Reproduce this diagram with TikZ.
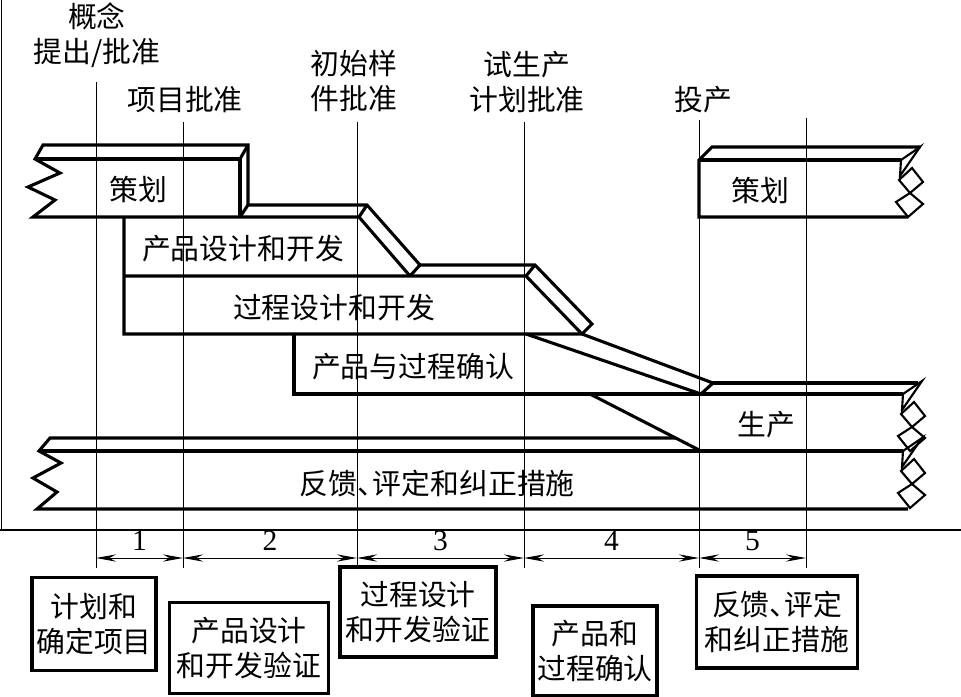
\documentclass[tikz,border=0pt]{standalone}
\usepackage{fontspec}
\setmainfont{Liberation Serif}
\newfontfamily\cjk{Noto Sans CJK SC}
\usepackage{tikz}
\usetikzlibrary{arrows.meta, positioning}
\tikzset{
  barline/.style={line width=2.2pt},
  brkline/.style={line width=1.5pt},
  guide/.style={line width=0.7pt},
  dimline/.style={{Stealth[length=5mm, width=1.8mm]}-{Stealth[length=5mm, width=1.8mm]}, line width=0.7pt},
  zh/.style={font=\cjk\fontsize{20.5pt}{25pt}\selectfont, inner sep=0pt, align=center},
  num/.style={font=\fontsize{21pt}{23pt}\selectfont, inner sep=0pt},
  stagebox/.style={zh, draw, line width=2.4pt},
}
% broken right end of a bar, given its front top corner
\newcommand{\rbreak}[1]{%
  \draw[brkline] (#1) -- ++(19,-13) -- ++(-20,29) -- cycle;
  \draw[brkline] (#1) ++(-2,20) -- ++(13,-12) -- ++(11,14) -- ++(-13,11) -- cycle;
  \draw[brkline] (#1) ++(9,33) -- ++(13,11) -- ++(-15,13) -- ++(-12,-15) -- cycle;}

\begin{document}
\begin{tikzpicture}[x=0.025cm, y=-0.025cm]
    \useasboundingbox (0,0) rectangle (961,697);

    % frame
    \draw[line width=1.4pt] (1.5,0) -- (1.5,530);
    \draw[line width=0.8pt] (0,530) -- (961,530);

    % milestones
    \node[zh] (lblConcept) at (97,35) {概念\\提出/批准};
    \node[zh] (lblProject) at (185,100) {项目批准};
    \node[zh] (lblSample) at (354,81) {初始样\\件批准};
    \node[zh] (lblTrial) at (527,82) {试生产\\计划批准};
    \node[zh] (lblLaunch) at (703,100) {投产};

    \coordinate (v1top) at (96,82);   \coordinate (v1bot) at (96,568);
    \coordinate (v2top) at (183,122); \coordinate (v2bot) at (183,568);
    \coordinate (v3top) at (357,122); \coordinate (v3bot) at (357,568);
    \coordinate (v4top) at (524,122); \coordinate (v4bot) at (524,568);
    \coordinate (v5top) at (699,120); \coordinate (v5bot) at (699,568);
    \coordinate (v6top) at (806,118); \coordinate (v6bot) at (806,568);
    \draw[guide] (v1top) -- (v1bot);
    \draw[guide] (v2top) -- (v2bot);
    \draw[guide] (v3top) -- (v3bot);
    \draw[guide] (v4top) -- (v4bot);
    \draw[guide] (v5top) -- (v5bot);
    \draw[guide] (v6top) -- (v6bot);

    % 策划 (left)
    \draw[barline] (248,205) -- (248,145) -- (43,145) -- (35,159) -- (60,173) -- (28,187) -- (55,200) -- (33,217) -- (359,217) -- (410,276);
    \draw[barline] (35,159) -- (240,159) -- (240,217);
    \draw[barline] (240,159) -- (248,145);
    % 产品设计和开发
    \draw[barline] (240,217) -- (248,205) -- (367,205) -- (420,265) -- (410,276);
    \draw[barline] (359,217) -- (367,205);
    % 过程设计和开发
    \draw[barline] (124,217) -- (124,334) -- (582,334) -- (592,324) -- (535,265) -- (420,265);
    \draw[barline] (124,276) -- (526,276) -- (582,334);
    \draw[barline] (526,276) -- (535,265);
    % 产品与过程确认
    \draw[barline] (294,334) -- (294,394) -- (903,394);
    \draw[barline] (526,334) -- (701,394) -- (713,383) -- (582,334);
    % 生产
    \draw[barline] (713,383) -- (918,383);
    \draw[barline] (590,394) -- (699,450);
    % 反馈、评定和纠正措施
    \draw[barline] (676,438) -- (50,438) -- (39,451) -- (61,463) -- (33,478) -- (57,492) -- (37,509) -- (908,509);
    \draw[barline] (39,451) -- (903,451);
    % 策划 (right)
    \draw[barline] (908,217) -- (699,217) -- (699,160) -- (712,147) -- (920,147);
    \draw[barline] (699,160) -- (901,160);
    \rbreak{901,160}
    \rbreak{903,394}
    \rbreak{903,451}

    \node[zh] (tPlanL) at (138,189) {策划};
    \node[zh] (tPlanR) at (760,190) {策划};
    \node[zh] (tProdDev) at (243,249) {产品设计和开发};
    \node[zh] (tProcDev) at (334,308) {过程设计和开发};
    \node[zh] (tValid) at (413,367) {产品与过程确认};
    \node[zh] (tProd) at (766,425) {生产};
    \node[zh] (tFeedback) at (437,483) {反馈、\kern-0.45em评定和纠正措施};

    % phases
    \coordinate (d1) at (96,558);
    \coordinate (d2) at (183,558);
    \coordinate (d3) at (357,558);
    \coordinate (d4) at (524,558);
    \coordinate (d5) at (699,558);
    \coordinate (d6) at (806,558);
    \draw[dimline] (d1) -- (d2) node[num, midway, above=5pt] (n1) {1};
    \draw[dimline] (d2) -- (d3) node[num, midway, above=5pt] (n2) {2};
    \draw[dimline] (d3) -- (d4) node[num, midway, above=5pt] (n3) {3};
    \draw[dimline] (d4) -- (d5) node[num, midway, above=5pt] (n4) {4};
    \draw[dimline] (d5) -- (d6) node[num, midway, above=5pt] (n5) {5};

    \node[stagebox, minimum width=3.1cm, minimum height=2.325cm] (box1) at (94,624) {计划和\\确定项目};
    \node[stagebox, minimum width=3.975cm, minimum height=2.275cm] (box2) at (249,648) {产品设计\\和开发验证};
    \node[stagebox, minimum width=3.9cm, minimum height=2.25cm] (box3) at (418,612) {过程设计\\和开发验证};
    \node[stagebox, minimum width=3.1cm, minimum height=2.25cm] (box4) at (595,651) {产品和\\过程确认};
    \node[stagebox, minimum width=4.025cm, minimum height=2.3cm] (box5) at (777,622) {反馈、\kern-0.5em评定\\和纠正措施};
\end{tikzpicture}
\end{document}
